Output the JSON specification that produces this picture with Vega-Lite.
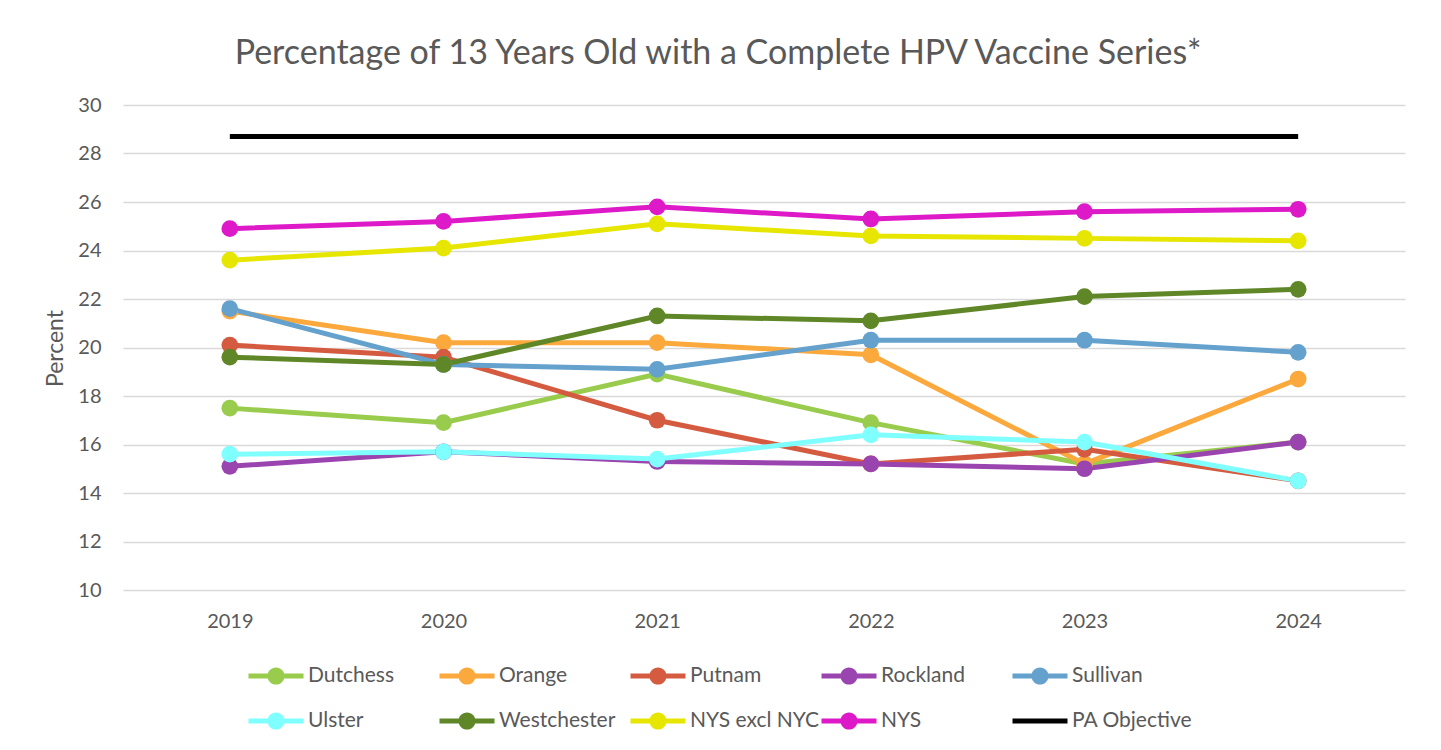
{
  "$schema": "https://vega.github.io/schema/vega-lite/v6.json",
  "autosize": {"type": "none"},
  "width": 1282,
  "height": 485,
  "padding": {"left": 123, "top": 105, "right": 36, "bottom": 160},
  "background": "white",
  "config": {
    "font": "Lato",
    "view": {"stroke": null}
  },
  "title": {
    "text": "Percentage of 13 Years Old with a Complete HPV Vaccine Series*",
    "font": "Lato",
    "fontSize": 34,
    "fontWeight": "normal",
    "color": "#595959",
    "anchor": "middle",
    "dx": -46,
    "baseline": "alphabetic",
    "offset": -3
  },
  "data": {
    "values": [
      {"series": "Dutchess", "year": "2019", "pct": 17.5},
      {"series": "Dutchess", "year": "2020", "pct": 16.9},
      {"series": "Dutchess", "year": "2021", "pct": 18.9},
      {"series": "Dutchess", "year": "2022", "pct": 16.9},
      {"series": "Dutchess", "year": "2023", "pct": 15.2},
      {"series": "Dutchess", "year": "2024", "pct": 16.1},
      {"series": "Orange", "year": "2019", "pct": 21.5},
      {"series": "Orange", "year": "2020", "pct": 20.2},
      {"series": "Orange", "year": "2021", "pct": 20.2},
      {"series": "Orange", "year": "2022", "pct": 19.7},
      {"series": "Orange", "year": "2023", "pct": 15.2},
      {"series": "Orange", "year": "2024", "pct": 18.7},
      {"series": "Putnam", "year": "2019", "pct": 20.1},
      {"series": "Putnam", "year": "2020", "pct": 19.6},
      {"series": "Putnam", "year": "2021", "pct": 17.0},
      {"series": "Putnam", "year": "2022", "pct": 15.2},
      {"series": "Putnam", "year": "2023", "pct": 15.8},
      {"series": "Putnam", "year": "2024", "pct": 14.5},
      {"series": "Rockland", "year": "2019", "pct": 15.1},
      {"series": "Rockland", "year": "2020", "pct": 15.7},
      {"series": "Rockland", "year": "2021", "pct": 15.3},
      {"series": "Rockland", "year": "2022", "pct": 15.2},
      {"series": "Rockland", "year": "2023", "pct": 15.0},
      {"series": "Rockland", "year": "2024", "pct": 16.1},
      {"series": "Sullivan", "year": "2019", "pct": 21.6},
      {"series": "Sullivan", "year": "2020", "pct": 19.3},
      {"series": "Sullivan", "year": "2021", "pct": 19.1},
      {"series": "Sullivan", "year": "2022", "pct": 20.3},
      {"series": "Sullivan", "year": "2023", "pct": 20.3},
      {"series": "Sullivan", "year": "2024", "pct": 19.8},
      {"series": "Ulster", "year": "2019", "pct": 15.6},
      {"series": "Ulster", "year": "2020", "pct": 15.7},
      {"series": "Ulster", "year": "2021", "pct": 15.4},
      {"series": "Ulster", "year": "2022", "pct": 16.4},
      {"series": "Ulster", "year": "2023", "pct": 16.1},
      {"series": "Ulster", "year": "2024", "pct": 14.5},
      {"series": "Westchester", "year": "2019", "pct": 19.6},
      {"series": "Westchester", "year": "2020", "pct": 19.3},
      {"series": "Westchester", "year": "2021", "pct": 21.3},
      {"series": "Westchester", "year": "2022", "pct": 21.1},
      {"series": "Westchester", "year": "2023", "pct": 22.1},
      {"series": "Westchester", "year": "2024", "pct": 22.4},
      {"series": "NYS excl NYC", "year": "2019", "pct": 23.6},
      {"series": "NYS excl NYC", "year": "2020", "pct": 24.1},
      {"series": "NYS excl NYC", "year": "2021", "pct": 25.1},
      {"series": "NYS excl NYC", "year": "2022", "pct": 24.6},
      {"series": "NYS excl NYC", "year": "2023", "pct": 24.5},
      {"series": "NYS excl NYC", "year": "2024", "pct": 24.4},
      {"series": "NYS", "year": "2019", "pct": 24.9},
      {"series": "NYS", "year": "2020", "pct": 25.2},
      {"series": "NYS", "year": "2021", "pct": 25.8},
      {"series": "NYS", "year": "2022", "pct": 25.3},
      {"series": "NYS", "year": "2023", "pct": 25.6},
      {"series": "NYS", "year": "2024", "pct": 25.7},
      {"series": "PA Objective", "year": "2019", "pct": 28.7},
      {"series": "PA Objective", "year": "2020", "pct": 28.7},
      {"series": "PA Objective", "year": "2021", "pct": 28.7},
      {"series": "PA Objective", "year": "2022", "pct": 28.7},
      {"series": "PA Objective", "year": "2023", "pct": 28.7},
      {"series": "PA Objective", "year": "2024", "pct": 28.7}
    ]
  },
  "encoding": {
    "x": {
      "field": "year",
      "type": "ordinal",
      "scale": {"type": "point", "padding": 0.5},
      "axis": {
        "title": null,
        "labelAngle": 0,
        "labelFont": "Lato",
        "labelFontSize": 20,
        "labelColor": "#595959",
        "labelPadding": 21,
        "ticks": false,
        "domain": false,
        "grid": false
      }
    },
    "y": {
      "field": "pct",
      "type": "quantitative",
      "scale": {"domain": [10, 30], "nice": false},
      "axis": {
        "title": "Percent",
        "titleFont": "Lato",
        "titleFontSize": 23,
        "titleFontWeight": "normal",
        "titleColor": "#595959",
        "titleAngle": -90,
        "titleBaseline": "middle",
        "titleAlign": "center",
        "titleX": -68,
        "titleY": 243,
        "values": [10, 12, 14, 16, 18, 20, 22, 24, 26, 28, 30],
        "labelFont": "Lato",
        "labelFontSize": 20,
        "labelColor": "#595959",
        "labelPadding": 22,
        "ticks": false,
        "domain": false,
        "grid": true,
        "gridColor": "#D9D9D9",
        "gridWidth": 1.5
      }
    },
    "color": {
      "field": "series",
      "type": "nominal",
      "scale": {
        "domain": ["Dutchess", "Orange", "Putnam", "Rockland", "Sullivan", "Ulster", "Westchester", "NYS excl NYC", "NYS", "PA Objective"],
        "range": ["#99CC4C", "#FBA83D", "#D45B40", "#9A44AF", "#64A1CD", "#80FFFF", "#5F8727", "#E6E600", "#DD19C8", "#000000"]
      },
      "legend": {
        "title": null,
        "orient": "none",
        "legendX": 133,
        "legendY": 551,
        "direction": "horizontal",
        "columns": 5,
        "gridAlign": "all",
        "columnPadding": 1,
        "rowPadding": 15,
        "symbolSize": 1600,
        "symbolOffset": 0,
        "labelOffset": 12,
        "labelFont": "Lato",
        "labelFontSize": 21,
        "labelColor": "#595959",
        "labelLimit": 200,
        "symbolStrokeWidth": 0,
        "encode": {
          "symbols": {
            "update": {
              "shape": {"signal": "datum.value === 'PA Objective' ? 'M-1.375,-0.12L1.375,-0.12L1.375,0.12L-1.375,0.12Z' : 'M-1.375,-0.12L1.375,-0.12L1.375,0.12L-1.375,0.12Z M0.43,0A0.43,0.43 0 1,1 -0.43,0A0.43,0.43 0 1,1 0.43,0Z'"},
              "fill": {"scale": "color", "field": "value"},
              "fillOpacity": {"value": 1},
              "opacity": {"value": 1},
              "strokeWidth": {"value": 0}
            }
          }
        }
      }
    }
  },
  "layer": [
    {
      "mark": {"type": "line", "strokeWidth": 5}
    },
    {
      "transform": [{"filter": "datum.series !== 'PA Objective'"}],
      "mark": {"type": "circle", "size": 280, "opacity": 1}
    }
  ]
}
